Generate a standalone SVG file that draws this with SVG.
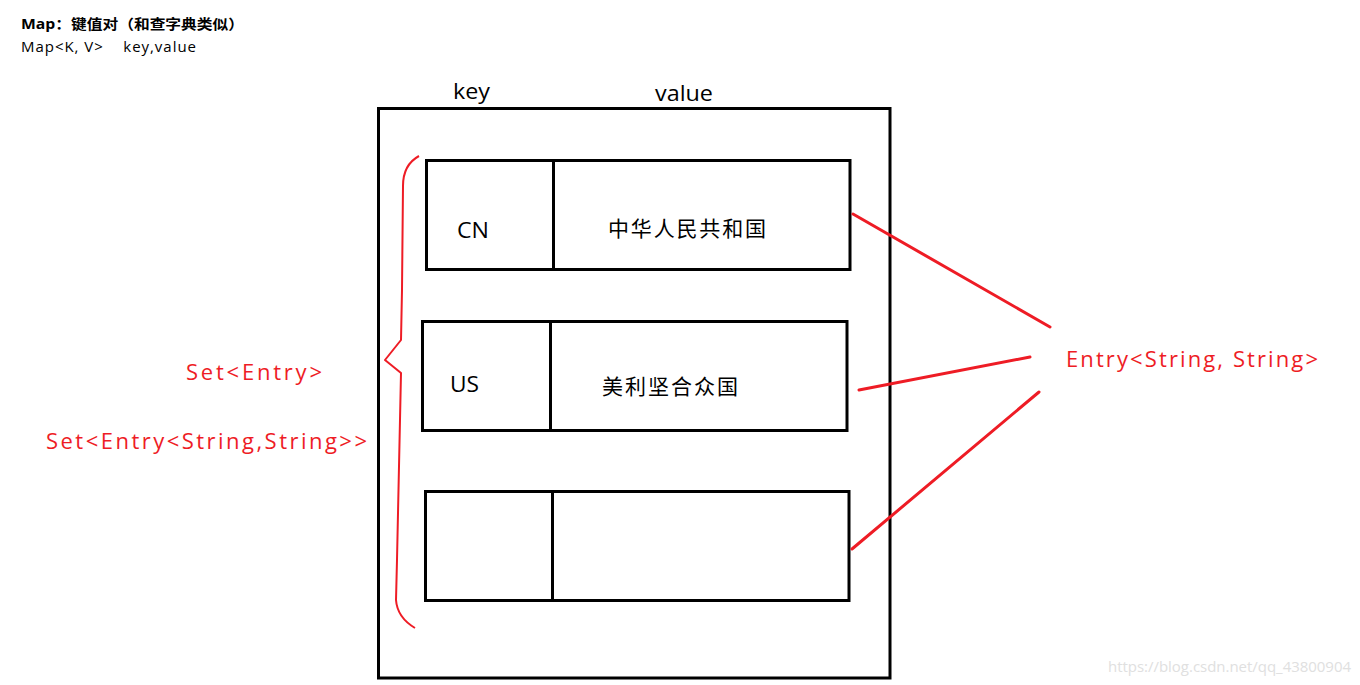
<svg xmlns="http://www.w3.org/2000/svg" width="1360" height="685" viewBox="0 0 1360 685">
<style>
text{font-family:"Open Sans","Noto Sans CJK SC","Microsoft YaHei",sans-serif;}
.blk{fill:#000;}
.red{fill:#ee1c25;}
.box{fill:none;stroke:#000;stroke-width:3;}
.rl{fill:none;stroke:#ee1c25;stroke-width:3;stroke-linecap:round;}
.brace{fill:none;stroke:#ee1c25;stroke-width:2;stroke-linejoin:round;}
</style>
<rect width="1360" height="685" fill="#fff"/>
<g id="header">
<text x="21" y="29" font-size="14" font-weight="bold" class="blk" textLength="223" lengthAdjust="spacingAndGlyphs">Map：键值对（和查字典类似）</text>
<text x="21" y="52" font-size="15" class="blk" textLength="175" lengthAdjust="spacing" xml:space="preserve">Map&lt;K, V&gt;    key,value</text>
</g>
<g id="map">
<rect class="box" x="378.5" y="108.5" width="511.5" height="569.5"/>
<text x="453" y="99" font-size="21" class="blk" textLength="37" lengthAdjust="spacingAndGlyphs">key</text>
<text x="655" y="101" font-size="21" class="blk" textLength="58" lengthAdjust="spacingAndGlyphs">value</text>
</g>
<g id="entry1">
<rect class="box" x="426.5" y="160.5" width="423.5" height="109"/>
<line class="box" x1="553.5" y1="160.5" x2="553.5" y2="269.5"/>
<text x="457" y="238" font-size="21" class="blk" textLength="32" lengthAdjust="spacingAndGlyphs">CN</text>
<text x="608" y="236" font-size="21" class="blk" textLength="158" lengthAdjust="spacing">中华人民共和国</text>
</g>
<g id="entry2">
<rect class="box" x="422.5" y="321.5" width="424.5" height="109"/>
<line class="box" x1="550.5" y1="321.5" x2="550.5" y2="430.5"/>
<text x="450" y="392" font-size="21" class="blk" textLength="29" lengthAdjust="spacingAndGlyphs">US</text>
<text x="602" y="394" font-size="21" class="blk" textLength="136" lengthAdjust="spacing">美利坚合众国</text>
</g>
<g id="entry3">
<rect class="box" x="425.5" y="491.5" width="423.5" height="109"/>
<line class="box" x1="552.5" y1="491.5" x2="552.5" y2="600.5"/>
</g>
<g id="set-label">
<path class="brace" d="M419,156 C408,162 403,172 403,186 L402,290 L401,340 L385,360 L401,373 L397,560 L396,600 C397,614 405,622 415,628"/>
<text x="186" y="380" font-size="22" class="red" textLength="136" lengthAdjust="spacing">Set&lt;Entry&gt;</text>
<text x="46" y="449" font-size="22" class="red" textLength="321" lengthAdjust="spacing">Set&lt;Entry&lt;String,String&gt;&gt;</text>
</g>
<g id="entry-label">
<text x="1066" y="367" font-size="22" class="red" textLength="252" lengthAdjust="spacing">Entry&lt;String, String&gt;</text>
</g>
<g id="connectors">
<line class="rl" x1="853" y1="214" x2="1050" y2="327"/>
<line class="rl" x1="859" y1="390" x2="1030" y2="357"/>
<line class="rl" x1="852" y1="549" x2="1039" y2="392"/>
</g>
<g id="watermark">
<text x="1108" y="672" font-size="15" fill="#e0e0e0" textLength="243" lengthAdjust="spacing">https://blog.csdn.net/qq_43800904</text>
</g>
</svg>
